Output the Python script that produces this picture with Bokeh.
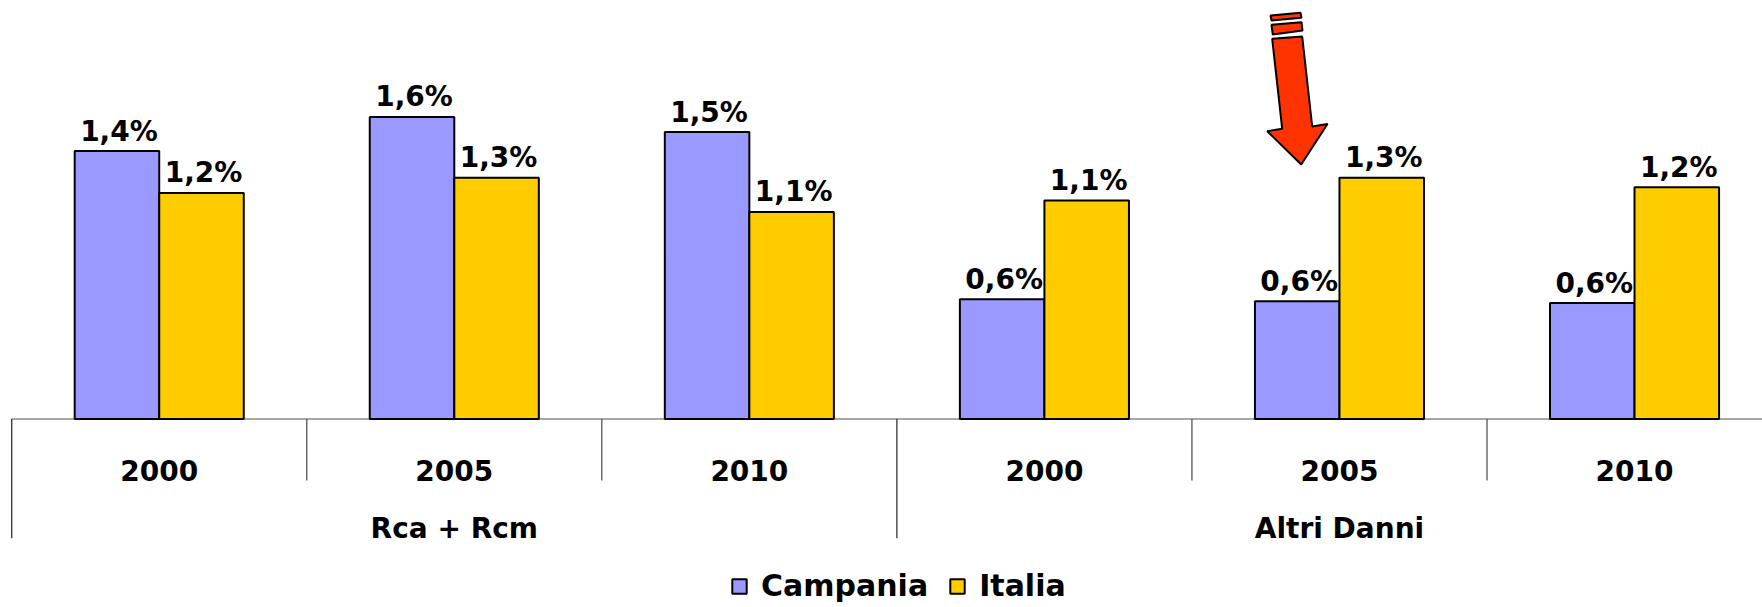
import numpy as np
from bokeh.plotting import figure
from bokeh.models import Range1d, ColumnDataSource, Legend, LegendItem
from bokeh.core.properties import value
from bokeh.embed import file_html
from bokeh.resources import INLINE

# ---------------- data ----------------
groups = ["Rca + Rcm", "Altri Danni"]
years = ["2000", "2005", "2010", "2000", "2005", "2010"]
campania = [1.41, 1.59, 1.51, 0.63, 0.62, 0.61]
italia = [1.19, 1.27, 1.09, 1.15, 1.27, 1.22]
series = ["Campania", "Italia"]
colors = ["#9999FF", "#FFCC00"]

# ---------------- layout constants ----------------
W, H = 1762, 607
OFF = 0                # page offset of the frame
CAT_PX = 295.06        # pixels per category
PX_PER_UNIT = 190.0    # pixels per 1 %
X0_PX = 11.2 - OFF     # left edge of first category inside the frame
BASE_PX = 418.5 - OFF  # baseline inside the frame

x_start = -X0_PX / CAT_PX
x_end = x_start + W / CAT_PX
y_end = BASE_PX / PX_PER_UNIT
y_start = y_end - H / PX_PER_UNIT


def to_data(X, Y):
    """page pixel -> data coordinates (for decorations only)"""
    fx, fy = X - OFF, Y - OFF
    return x_start + fx / CAT_PX, y_end - fy / PX_PER_UNIT


def below(Y):
    """page pixel row below the baseline -> data y"""
    return -(Y - 418.5) / PX_PER_UNIT


FONT = "DejaVu Sans"
BW = 0.2865

p = figure(width=W, height=H, x_range=Range1d(x_start, x_end),
           y_range=Range1d(y_start, y_end), x_axis_type=None, y_axis_type=None,
           toolbar_location=None, output_backend="svg", min_border=0,
           outline_line_color=None)

n = len(years)
idx = np.arange(n)
centers = idx + 0.5

# category axis (Excel style)
p.segment(x0=[0], y0=[0], x1=[n], y1=[0], line_color="#8a8a8a", line_width=1.5)
minor = [i for i in range(1, n) if i != 3]
major = [0, 3, n]
p.segment(x0=minor, y0=[0] * len(minor), x1=minor, y1=[below(480)] * len(minor),
          line_color="#555555", line_width=1.3)
p.segment(x0=major, y0=[0] * len(major), x1=major, y1=[below(537.7)] * len(major),
          line_color="#333333", line_width=1.3)

# bars
src = ColumnDataSource(dict(
    xc=centers - BW / 2, xi=centers + BW / 2, c=campania, i=italia,
    lc=[f"{v:.1f}".replace(".", ",") + "%" for v in campania],
    li=[f"{v:.1f}".replace(".", ",") + "%" for v in italia],
    lyc=[v + 20 / PX_PER_UNIT for v in campania],
    lyi=[v + 20 / PX_PER_UNIT for v in italia],
))
r1 = p.vbar(x="xc", top="c", width=BW, source=src, fill_color=colors[0],
            line_color="black", line_width=2)
r2 = p.vbar(x="xi", top="i", width=BW, source=src, fill_color=colors[1],
            line_color="black", line_width=2)

for xcol, ycol, lcol in [("xc", "lyc", "lc"), ("xi", "lyi", "li")]:
    p.text(x=xcol, y=ycol, text=lcol, source=src, x_offset=2,
           text_align="center", text_baseline="alphabetic",
           text_font=value(FONT), text_font_style="bold",
           text_font_size="28px", text_color="black")

# year labels
p.text(x=list(centers), y=[below(470)] * n, text=years,
       text_align="center", text_baseline="alphabetic",
       text_font=value(FONT), text_font_style="bold", text_font_size="28px",
       text_color="black")
# group labels
p.text(x=[1.5, 4.5], y=[below(528.3)] * 2, text=groups,
       text_align="center", text_baseline="alphabetic",
       text_font=value(FONT), text_font_style="bold", text_font_size="28px",
       text_color="black")

# decorative arrow
arrow_px = [(1271.7, 38.3), (1301.7, 36), (1311.7, 126), (1327, 123.5),
            (1300.7, 164), (1266.7, 130.7), (1281.7, 128.3)]
stripe1 = [(1270, 15), (1300, 12.3), (1301, 17.3), (1271, 20)]
stripe2 = [(1271, 24.3), (1301, 21.7), (1302, 30), (1272.3, 34)]
xs, ys = [], []
for poly in (arrow_px, stripe1, stripe2):
    pts = [to_data(X, Y) for X, Y in poly]
    xs.append([a for a, _ in pts])
    ys.append([b for _, b in pts])
p.patches(xs=xs, ys=ys, fill_color="#FF3300", line_color="black", line_width=2)

# legend
legend = Legend(items=[LegendItem(label=series[0], renderers=[r1]),
                       LegendItem(label=series[1], renderers=[r2])],
                orientation="horizontal", location=(730 - OFF, 4),
                glyph_width=18, glyph_height=18, label_standoff=13,
                label_width=167, spacing=20, padding=0, margin=0,
                border_line_color=None, background_fill_alpha=0,
                label_text_font=FONT, label_text_font_style="bold",
                label_text_font_size="30px", label_text_color="black")
p.add_layout(legend)

open("out.html", "w").write(file_html(p, INLINE))
